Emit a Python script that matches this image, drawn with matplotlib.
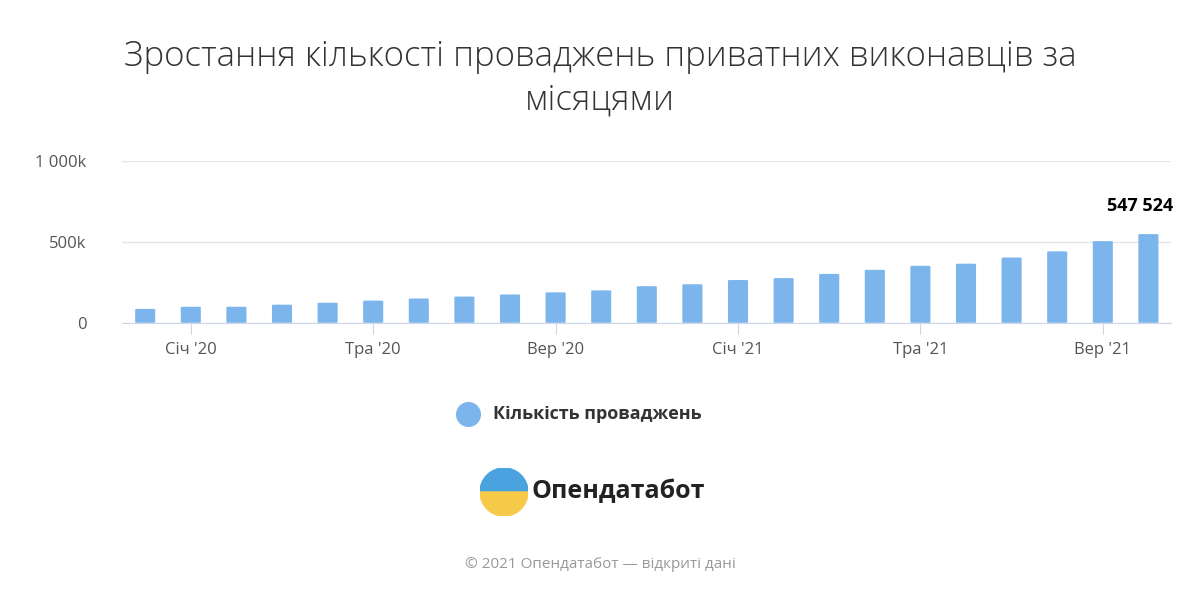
import matplotlib.pyplot as plt
from matplotlib.patches import FancyBboxPatch, Wedge
from matplotlib.lines import Line2D

months = ["Гру '19", "Січ '20", "Лют '20", "Бер '20", "Кві '20", "Тра '20", "Чер '20", "Лип '20",
          "Сер '20", "Вер '20", "Жов '20", "Лис '20", "Гру '20", "Січ '21", "Лют '21", "Бер '21",
          "Кві '21", "Тра '21", "Чер '21", "Лип '21", "Сер '21", "Вер '21", "Жов '21"]
values = [86000, 99000, 99000, 112000, 124000, 137000, 150000, 162000, 175000, 188000, 200000,
          226000, 238000, 264000, 276000, 302000, 327000, 352000, 365000, 403000, 441000, 504000, 547524]
tick_idx = [1, 5, 9, 13, 17, 21]

plt.rcParams['font.family'] = ['Open Sans', 'DejaVu Sans']
fig = plt.figure(figsize=(12, 6), dpi=100)
ax = fig.add_axes([0.102, 0.462, 0.874, 0.27])

x = range(len(values))
bar_color = "#7cb5ec"
for i, v in zip(x, values):
    ax.add_patch(FancyBboxPatch((i - 0.22, 0), 0.44, v, boxstyle="round,pad=0,rounding_size=0.08",
                                mutation_aspect=30000, fc=bar_color, ec="none"))
ax.set_xlim(-0.5, len(values) - 0.5)
ax.set_ylim(0, 1000000)
ax.set_yticks([0, 500000, 1000000])
ax.set_yticklabels(["0", "500k", "1 000k"], fontsize=12, color="#555555")
ax.set_xticks(tick_idx)
ax.set_xticklabels([months[i] for i in tick_idx], fontsize=12, color="#555555")
ax.tick_params(axis="y", length=0, pad=26)
ax.tick_params(axis="x", length=8, color="#ccd6eb", pad=6)
ax.grid(axis="y", color="#e6e6e6", lw=1)
ax.set_axisbelow(True)
for s in ["top", "right", "left"]:
    ax.spines[s].set_visible(False)
ax.spines["bottom"].set_color("#ccd6eb")
ax.set_clip_on(False)

ax.annotate("547 524", (len(values) - 1, values[-1]), xytext=(-6, 14), textcoords="offset points",
            ha="center", va="bottom", fontsize=13, fontweight="bold", color="black")

fig.text(0.5, 0.905, "Зростання кількості проваджень приватних виконавців за", ha="center",
         va="center", fontsize=25, fontweight="light", color="#333333")
fig.text(0.5, 0.833, "місяцями", ha="center", va="center", fontsize=25, fontweight="light",
         color="#333333")

fig.add_artist(Line2D([0.39], [0.31], marker="o", markersize=17, color=bar_color,
                      transform=fig.transFigure))
fig.text(0.411, 0.31, "Кількість проваджень", ha="left", va="center", fontsize=13,
         fontweight="bold", color="#333333")

# logo
lax = fig.add_axes([0.4, 0.14, 0.04, 0.08])
lax.set_aspect("equal")
lax.axis("off")
lax.add_patch(Wedge((0, 0), 1, 0, 180, color="#4aa3df"))
lax.add_patch(Wedge((0, 0), 1, 180, 360, color="#f7c948"))
lax.set_xlim(-1, 1)
lax.set_ylim(-1, 1)
fig.text(0.443, 0.18, "Опендатабот", ha="left", va="center", fontsize=18, fontweight="bold",
         color="#222222")

fig.text(0.5, 0.06, "© 2021 Опендатабот — відкриті дані", ha="center", va="center",
         fontsize=11, color="#999999")

fig.savefig("out.png")
